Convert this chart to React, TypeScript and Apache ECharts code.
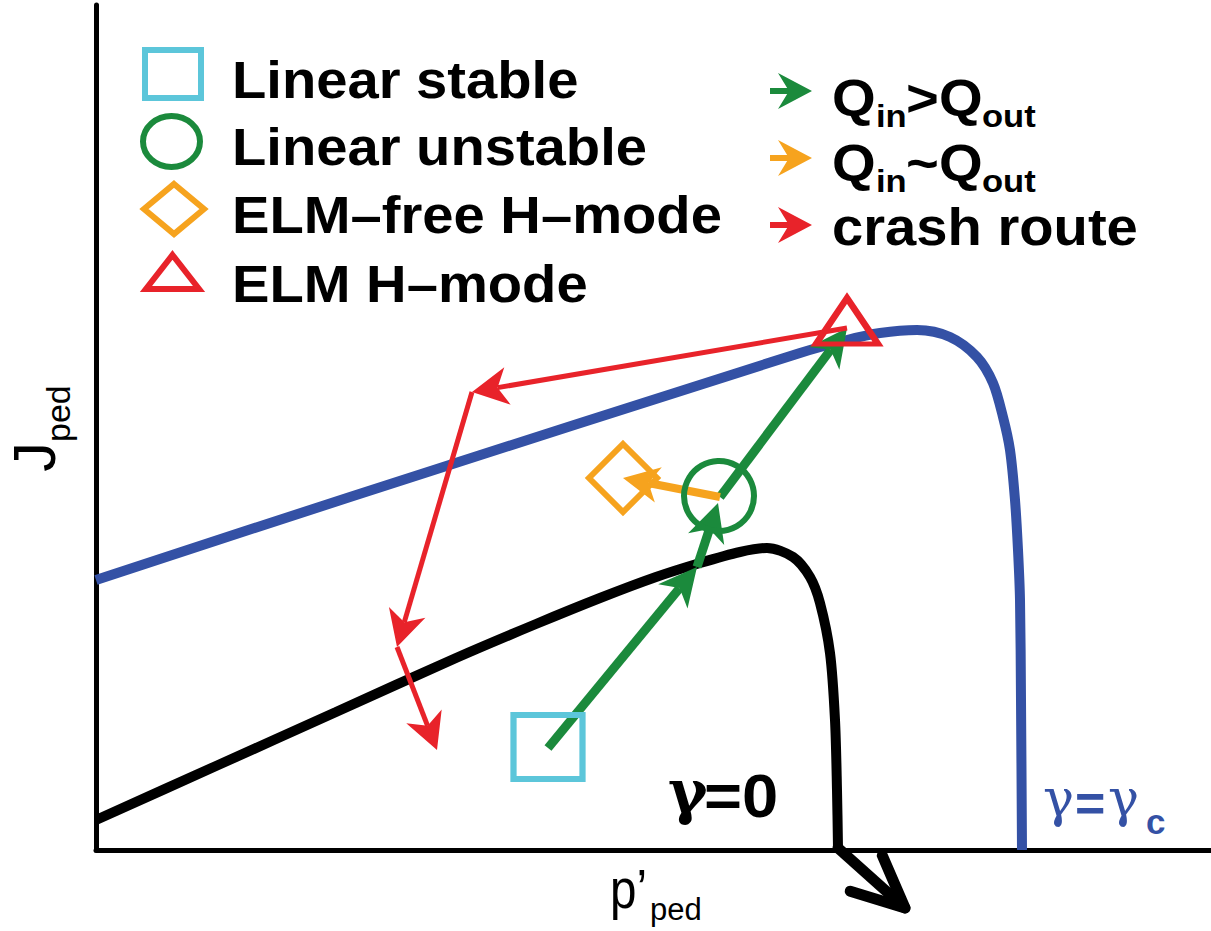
import React, { useEffect, useRef } from "react";
import * as echarts from "echarts";

// ---- data (schematic units: x = p'_ped, y = J_ped) ----
const blueCurve: number[][] = [
  [0, 270], [254, 353], [704, 497], [751, 510], [784, 517], [821, 520], [854, 513],
  [881, 493], [897, 467], [907, 433], [914, 400], [919, 350], [922, 300], [924, 250],
  [925, 150], [926, 0],
];
const blackCurve: number[][] = [
  [0, 30], [120, 84], [240, 138], [360, 192], [440, 226], [504, 252], [560, 273],
  [604, 287], [644, 298], [671, 302], [697, 293], [714, 273], [724, 247], [734, 197],
  [739, 130], [741, 60], [742, 2],
];
// arrows: [x1, y1, x2, y2]
const greenArrows: number[][] = [
  [452, 102, 601, 283],
  [601, 283, 622, 347],
  [624, 353, 751, 522],
];
const orangeArrows: number[][] = [[624, 353, 527, 372]];
const redArrows: number[][] = [
  [751, 522, 376, 458],
  [376, 458, 301, 203],
  [301, 203, 341, 100],
];
const blackArrows: number[][] = [[742, 2, 809, -58]];
// state markers
const linearStable: number[][] = [[452, 103]];
const linearUnstable: number[][] = [[623, 354]];
const elmFree: number[][] = [[527, 372]];
const elmH: number[][] = [[751, 529]];

const legendLabels = ["Linear stable", "Linear unstable", "ELM\u2013free H\u2013mode", "ELM H\u2013mode"];
const arrowLegend = [
  { main1: "Q", sub1: "in", op: ">", main2: "Q", sub2: "out" },
  { main1: "Q", sub1: "in", op: "~", main2: "Q", sub2: "out" },
];
const crashLabel = "crash route";

const BLUE = "#3451a5";
const GREEN = "#1b8a3c";
const ORANGE = "#f6a31e";
const RED = "#e8232a";
const CYAN = "#5cc6da";
const FONT = "'Liberation Sans', Arial, Helvetica, sans-serif";
const GFONT = "'DejaVu Serif', 'Liberation Serif', serif";

const makeArrowSeries = (
  name: string,
  data: number[][],
  color: string,
  width: number,
  headLen: number,
  headWidth: number,
  open: boolean,
  z: number
) => ({
  type: "custom",
  name,
  coordinateSystem: "cartesian2d",
  silent: true,
  clip: false,
  z,
  encode: { x: [0, 2], y: [1, 3] },
  data,
  renderItem: (_params: any, api: any) => {
    const p1 = api.coord([api.value(0), api.value(1)]);
    const p2 = api.coord([api.value(2), api.value(3)]);
    const dx = p2[0] - p1[0];
    const dy = p2[1] - p1[1];
    const len = Math.hypot(dx, dy) || 1;
    const ux = dx / len;
    const uy = dy / len;
    const nx = -uy;
    const ny = ux;
    const bx = p2[0] - ux * headLen;
    const by = p2[1] - uy * headLen;
    const w1 = [bx + (nx * headWidth) / 2, by + (ny * headWidth) / 2];
    const w2 = [bx - (nx * headWidth) / 2, by - (ny * headWidth) / 2];
    if (open) {
      return {
        type: "group",
        children: [
          {
            type: "line",
            shape: { x1: p1[0], y1: p1[1], x2: p2[0], y2: p2[1] },
            style: { stroke: color, lineWidth: width, lineCap: "round" },
          },
          {
            type: "polyline",
            shape: { points: [w1, p2, w2] },
            style: { stroke: color, lineWidth: width, lineCap: "round", lineJoin: "round", fill: null },
          },
        ],
      };
    }
    const notch = [p2[0] - ux * headLen * 0.72, p2[1] - uy * headLen * 0.72];
    return {
      type: "group",
      children: [
        {
          type: "line",
          shape: { x1: p1[0], y1: p1[1], x2: notch[0], y2: notch[1] },
          style: { stroke: color, lineWidth: width, lineCap: "butt" },
        },
        {
          type: "polygon",
          shape: { points: [p2, w1, notch, w2] },
          style: { fill: color },
        },
      ],
    };
  },
});

const markerSeries = (name: string, data: number[][], symbol: string, size: number[], color: string) => ({
  type: "scatter",
  name,
  data,
  symbol,
  symbolSize: size,
  silent: true,
  z: 5,
  itemStyle: { color: "rgba(0,0,0,0)", borderColor: color, borderWidth: 6, opacity: 1 },
});

const txt = (
  text: string,
  x: number,
  y: number,
  size: number,
  opts: { bold?: boolean; color?: string; scaleX?: number; family?: string } = {}
) => ({
  type: "text",
  x,
  y,
  scaleX: opts.scaleX ?? 1,
  silent: true,
  z: 10,
  style: {
    text,
    fontFamily: opts.family ?? FONT,
    fontSize: size,
    fontWeight: opts.bold ? "bold" : "normal",
    fill: opts.color ?? "#000",
    align: "left",
    verticalAlign: "middle",
  },
});

const legendArrow = (cy: number, color: string) => {
  const tipX = 812;
  const backX = 778;
  const notchX = 789;
  const half = 18;
  return {
    type: "group",
    silent: true,
    children: [
      { type: "line", shape: { x1: 770, y1: cy, x2: notchX + 1, y2: cy }, style: { stroke: color, lineWidth: 6 } },
      {
        type: "polygon",
        shape: { points: [[tipX, cy], [backX, cy - half], [notchX, cy], [backX, cy + half]] },
        style: { fill: color },
      },
    ],
  };
};

export default function App() {
  const ref = useRef<HTMLDivElement>(null);
  useEffect(() => {
    if (!ref.current) return;
    const chart = echarts.init(ref.current, undefined, { renderer: "svg" });
    const axisCommon = {
      type: "value",
      axisLine: { show: true, onZero: false, lineStyle: { color: "#000", width: 5 } },
      axisTick: { show: false },
      axisLabel: { show: false },
      splitLine: { show: false },
    };
    const LS = 1.08;
    const legendYs = [80, 147, 215, 284];
    const graphic: any[] = [
      // left legend glyphs
      { type: "rect", silent: true, shape: { x: 145, y: 50, width: 56, height: 48 }, style: { fill: null, stroke: CYAN, lineWidth: 6 } },
      { type: "ellipse", silent: true, shape: { cx: 171.5, cy: 141.5, rx: 28.5, ry: 25.5 }, style: { fill: null, stroke: GREEN, lineWidth: 6 } },
      { type: "polygon", silent: true, shape: { points: [[174, 184], [204, 209], [174, 234], [144, 209]] }, style: { fill: null, stroke: ORANGE, lineWidth: 6 } },
      { type: "polygon", silent: true, shape: { points: [[172.5, 255], [199, 289], [146, 289]] }, style: { fill: null, stroke: RED, lineWidth: 6 } },
      ...legendLabels.map((l, i) => txt(l, 232, legendYs[i], 52, { bold: true, scaleX: LS })),
      // right legend
      legendArrow(91, GREEN),
      legendArrow(158, ORANGE),
      legendArrow(225, RED),
      ...arrowLegend.flatMap((r, i) => {
        const yMain = i === 0 ? 98 : 163;
        const ySub = i === 0 ? 116 : 181;
        return [
          txt(r.main1, 832, yMain, 52, { bold: true, scaleX: LS }),
          txt(r.sub1, 876, ySub, 32, { bold: true, scaleX: LS }),
          txt(r.op, 906, yMain, 52, { bold: true, scaleX: LS }),
          txt(r.main2, 939, yMain, 52, { bold: true, scaleX: LS }),
          txt(r.sub2, 982, ySub, 32, { bold: true, scaleX: LS }),
        ];
      }),
      txt(crashLabel, 832, 227, 52, { bold: true, scaleX: LS }),
      // curve labels
      txt("\u03b3", 668, 792, 60, { bold: true, family: GFONT }),
      txt("=0", 704, 795, 62, { bold: true, scaleX: 1.05 }),
      txt("\u03b3", 1043, 798, 52, { bold: false, color: BLUE, family: GFONT }),
      txt("=", 1075, 803, 52, { bold: true, color: BLUE }),
      txt("\u03b3", 1108, 798, 52, { bold: false, color: BLUE, family: GFONT }),
      txt("c", 1146, 821, 35, { bold: true, color: BLUE }),
      // axis names
      {
        type: "group",
        x: 34,
        y: 472,
        rotation: Math.PI / 2,
        silent: true,
        children: [
          txt("J", 0, 0, 60),
          txt("ped", 30, 24, 34),
        ],
      },
      txt("p\u2019", 610, 889, 56, { scaleX: 0.85 }),
      txt("ped", 650, 909, 31),
    ];

    chart.setOption({
      animation: false,
      backgroundColor: "#fff",
      grid: { left: 96, right: 0, top: 5, bottom: 81 },
      xAxis: { ...axisCommon, min: 0, max: 1115 },
      yAxis: { ...axisCommon, min: 0, max: 845 },
      series: [
        {
          type: "line",
          name: "\u03b3=\u03b3c",
          data: blueCurve,
          showSymbol: false,
          smooth: 0.3,
          silent: true,
          z: 2,
          lineStyle: { color: BLUE, width: 10 },
        },
        {
          type: "line",
          name: "\u03b3=0",
          data: blackCurve,
          showSymbol: false,
          smooth: 0.3,
          silent: true,
          z: 2,
          lineStyle: { color: "#000", width: 10 },
        },
        makeArrowSeries("Qin>Qout", greenArrows, GREEN, 9, 38, 38, false, 4),
        makeArrowSeries("Qin~Qout", orangeArrows, ORANGE, 8, 36, 36, false, 4),
        makeArrowSeries("crash route", redArrows, RED, 5, 36, 38, false, 4),
        makeArrowSeries("continuation", blackArrows, "#000", 11, 52, 48, true, 4),
        markerSeries("Linear stable", linearStable, "rect", [69, 64], CYAN),
        markerSeries("Linear unstable", linearUnstable, "circle", [70, 70], GREEN),
        markerSeries("ELM-free H-mode", elmFree, "diamond", [68, 68], ORANGE),
        markerSeries("ELM H-mode", elmH, "triangle", [62, 46], RED),
      ],
      graphic,
    });
    return () => chart.dispose();
  }, []);
  return (
    <div
      ref={ref}
      style={{ position: "fixed", left: 0, top: 0, width: 1211, height: 931, background: "#fff" }}
    />
  );
}
